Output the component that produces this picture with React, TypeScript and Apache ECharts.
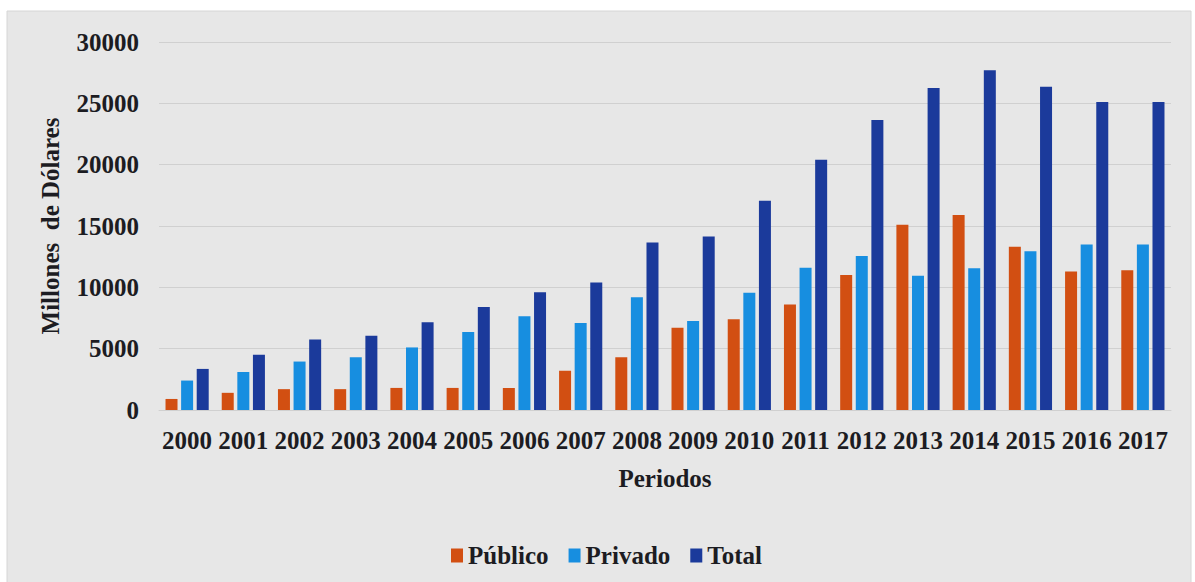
import React, { useEffect, useRef } from "react";
import * as echarts from "echarts";

const periods = [
  "2000", "2001", "2002", "2003", "2004", "2005", "2006", "2007", "2008",
  "2009", "2010", "2011", "2012", "2013", "2014", "2015", "2016", "2017",
];

const publico = [
  900, 1400, 1700, 1700, 1800, 1800, 1800, 3200, 4300,
  6700, 7400, 8600, 11000, 15100, 15900, 13300, 11300, 11400,
];

const privado = [
  2400, 3100, 3950, 4300, 5100, 6350, 7650, 7100, 9200,
  7250, 9550, 11600, 12550, 10950, 11550, 12950, 13500, 13500,
];

const total = [
  3350, 4500, 5750, 6050, 7150, 8400, 9600, 10400, 13650,
  14150, 17050, 20400, 23650, 26250, 27700, 26350, 25100, 25100,
];

const seriesNames = ["Público", "Privado", "Total"];
const seriesColors = ["#d24f12", "#178ee0", "#1b3a9b"];

const FONT = "'Liberation Serif', 'Times New Roman', serif";
const TEXT = "#1c1c22";
const SIZE = 25;

export default function App() {
  const ref = useRef<HTMLDivElement>(null);

  useEffect(() => {
    if (!ref.current) return;
    const chart = echarts.init(ref.current, undefined, { renderer: "svg" });
    const values = [publico, privado, total];

    chart.setOption({
      animation: false,
      backgroundColor: "#ffffff",
      textStyle: { fontFamily: FONT },
      graphic: [
        {
          type: "rect",
          z: -10,
          silent: true,
          shape: { x: 7, y: 11, width: 1184, height: 580 },
          style: { fill: "#e7e7e7", stroke: "#d6d6d6", lineWidth: 1 },
        },
      ],
      grid: { left: 159, right: 24, top: 42, bottom: 172 },
      legend: {
        left: 446,
        top: 538,
        itemWidth: 12,
        itemHeight: 14,
        itemGap: 20,
        icon: "rect",
        data: seriesNames,
        textStyle: {
          fontFamily: FONT,
          fontWeight: "bold",
          fontSize: SIZE,
          color: TEXT,
        },
      },
      xAxis: {
        type: "category",
        data: periods,
        name: "Periodos",
        nameLocation: "middle",
        nameGap: 56,
        nameTextStyle: {
          fontFamily: FONT,
          fontWeight: "bold",
          fontSize: SIZE,
          color: TEXT,
        },
        axisLine: { show: true, lineStyle: { color: "#d0d0d0", width: 1 } },
        axisTick: { show: false },
        axisLabel: {
          margin: 18,
          fontFamily: FONT,
          fontWeight: "bold",
          fontSize: SIZE,
          color: TEXT,
          interval: 0,
        },
      },
      yAxis: {
        type: "value",
        min: 0,
        max: 30000,
        interval: 5000,
        name: "Millones  de Dólares",
        nameLocation: "middle",
        nameRotate: 90,
        nameGap: 96,
        nameTextStyle: {
          fontFamily: FONT,
          fontWeight: "bold",
          fontSize: SIZE,
          color: TEXT,
        },
        axisLine: { show: false },
        axisTick: { show: false },
        splitLine: { lineStyle: { color: "#d0d0d0", width: 1 } },
        axisLabel: {
          margin: 20,
          fontFamily: FONT,
          fontWeight: "bold",
          fontSize: SIZE,
          color: TEXT,
          formatter: (v: number) => String(v),
        },
      },
      series: seriesNames.map((name, i) => ({
        name,
        type: "bar",
        data: values[i],
        barWidth: 12,
        barGap: "30%",
        itemStyle: { color: seriesColors[i] },
      })),
    });

    return () => chart.dispose();
  }, []);

  return (
    <div
      ref={ref}
      style={{ position: "absolute", left: 0, top: 0, width: 1195, height: 582 }}
    />
  );
}
